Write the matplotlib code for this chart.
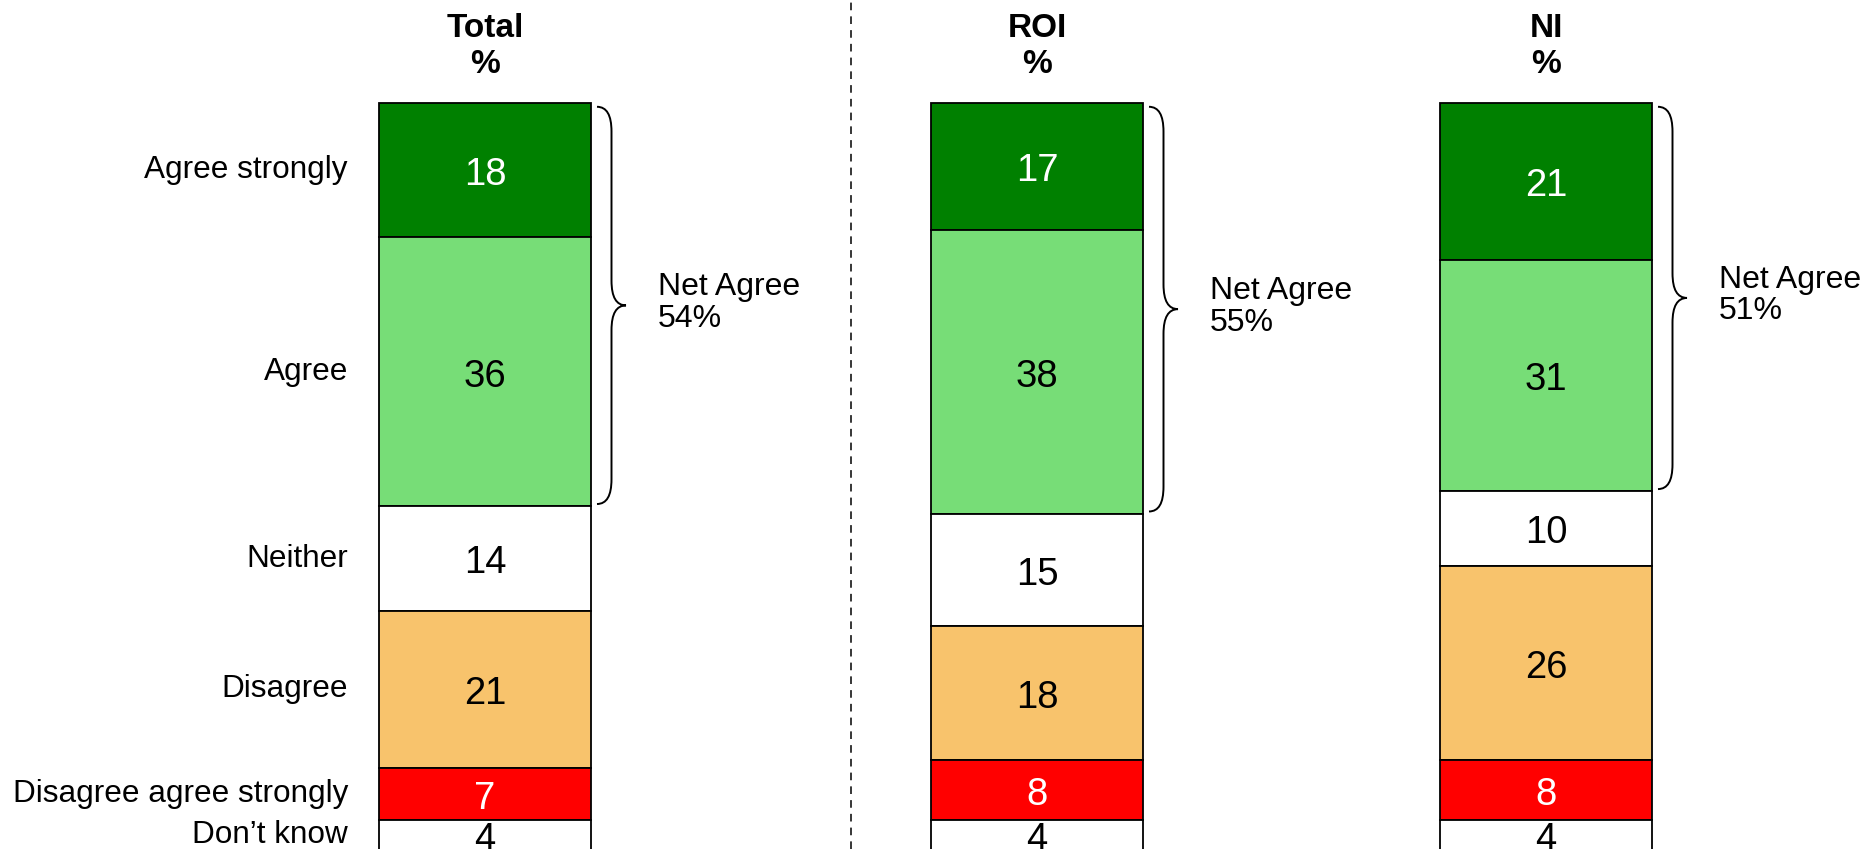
import matplotlib
matplotlib.use("Agg")
import matplotlib.pyplot as plt
from matplotlib.path import Path
from matplotlib.patches import PathPatch

plt.rcParams['font.family'] = ['Liberation Sans', 'DejaVu Sans']

# data
categories = ["Agree strongly", "Agree", "Neither", "Disagree",
              "Disagree agree strongly", "Don\u2019t know"]
groups = ["Total", "ROI", "NI"]
total = [18, 36, 14, 21, 7, 4]
roi = [17, 38, 15, 18, 8, 4]
ni = [21, 31, 10, 26, 8, 4]
net_agree = [54, 55, 51]

colors = ["#008000", "#77DD77", "#FFFFFF", "#F8C36C", "#FF0000", "#FFFFFF"]
text_colors = ["white", "black", "black", "black", "white", "black"]

# layout (x in figure pixels, y in percent units)
x_pos = [485, 1037, 1546]
bar_w = 212
divider_x = 851
px_per_unit = 7.47
val_size = 27.5
digit_half = 0.716 * val_size * 100 / 72 / 2 / px_per_unit

fig = plt.figure(figsize=(18.64, 8.49), dpi=100)
ax = fig.add_axes([0, 0, 1, 1])
ax.set_xlim(0, 1864)
ax.set_ylim(99.9, -13.8)
ax.axis('off')


def brace(ax, x0, y_top, y_bot, w=29, h=3.3):
    xs = x0 + w * 0.5
    xt = x0 + w
    ym = (y_top + y_bot) / 2
    verts = [(x0, y_top), (xs, y_top), (xs, y_top + h),
             (xs, ym - h), (xs, ym), (xt, ym),
             (xs, ym), (xs, ym + h),
             (xs, y_bot - h), (xs, y_bot), (x0, y_bot)]
    codes = [Path.MOVETO, Path.CURVE3, Path.CURVE3,
             Path.LINETO, Path.CURVE3, Path.CURVE3,
             Path.CURVE3, Path.CURVE3,
             Path.LINETO, Path.CURVE3, Path.CURVE3]
    ax.add_patch(PathPatch(Path(verts, codes), fill=False, lw=1.4, ec='black'))


for gi, vals in enumerate([total, roi, ni]):
    bottom = 0
    for ci, v in enumerate(vals):
        ax.bar(x_pos[gi], v, width=bar_w, bottom=bottom, color=colors[ci],
               edgecolor='black', linewidth=1.3, align='center')
        ax.text(x_pos[gi], bottom + v / 2 + digit_half + 0.15, str(v),
                ha='center', va='baseline', fontsize=val_size,
                color=text_colors[ci])
        bottom += v
    ax.text(x_pos[gi], -7.6, groups[gi] + "\n%", ha='center', va='center',
            fontsize=24, fontweight='bold', linespacing=1.22)
    agree_sum = vals[0] + vals[1]
    bx = x_pos[gi] + bar_w / 2 + 6
    brace(ax, bx, 0.5, agree_sum - 0.3)
    ax.text(bx + 61, agree_sum / 2 - 0.2, "Net Agree\n%d%%" % net_agree[gi],
            ha='left', va='center', fontsize=23, linespacing=1.06)

# category labels aligned to the Total bar
bottom = 0
for ci, v in enumerate(total):
    ax.text(348, bottom + v / 2, categories[ci], ha='right', va='center',
            fontsize=22.7)
    bottom += v

ax.axvline(divider_x, color='black', lw=1.1, dashes=(5, 4))

fig.savefig("out.png", dpi=100)
